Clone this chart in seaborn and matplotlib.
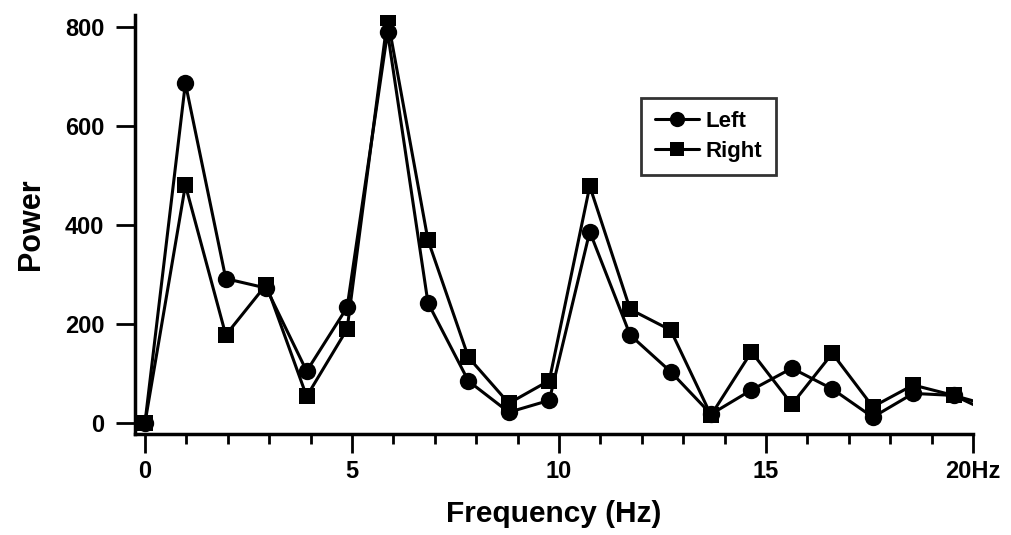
import numpy as np
import pandas as pd
import matplotlib
matplotlib.use("Agg")
import matplotlib.pyplot as plt
import seaborn as sns
from matplotlib.lines import Line2D

# ---- data ----
step = 0.9766
freq = [round(i * step, 3) for i in range(22)]
left = [0, 687, 292, 273, 105, 234, 790, 243, 85, 22, 46, 387, 178, 104, 18,
        67, 111, 69, 12, 60, 56, 33]
right = [0, 481, 178, 280, 54, 190, 818, 370, 133, 40, 86, 479, 230, 188, 16,
         144, 38, 141, 33, 77, 56, 18]
series_names = ["Left", "Right"]
x_ticks = [0, 5, 10, 15, 20]
x_tick_labels = ["0", "5", "10", "15", "20Hz"]
y_ticks = [0, 200, 400, 600, 800]
y_tick_labels = ["0", "200", "400", "600", "800"]

df = pd.DataFrame({
    "freq": freq * 2,
    "power": left + right,
    "side": ["Left"] * len(left) + ["Right"] * len(right),
})

sns.set_style("ticks")
plt.rcParams["font.family"] = ["Liberation Sans", "DejaVu Sans"]
plt.rcParams["font.weight"] = "bold"
plt.rcParams["text.color"] = "black"
plt.rcParams["axes.labelcolor"] = "black"
plt.rcParams["xtick.color"] = "black"
plt.rcParams["ytick.color"] = "black"

fig = plt.figure(figsize=(10.12, 5.35), dpi=100)
ax = fig.add_axes([0.1334, 0.1888, 0.9615 - 0.1334, 0.972 - 0.1888])

sns.lineplot(data=df, x="freq", y="power", style="side",
             markers={"Left": "o", "Right": "s"}, dashes=False,
             color="black", linewidth=2.2, markersize=12.5,
             markeredgewidth=0, ax=ax, legend=False, sort=False)
for ln in ax.lines:
    ln.set_markevery(list(range(len(freq) - 1)))
    ln.set_solid_joinstyle("round")
    if ln.get_marker() == "s":
        ln.set_markersize(11.5)

ax.set_xlim(-0.24, 20)
ax.set_ylim(-22, 825)
ax.set_xticks(x_ticks)
ax.set_xticklabels(x_tick_labels, fontsize=17, fontweight="bold", color="black")
ax.set_xticks(np.arange(0, 21, 1), minor=True)
ax.set_yticks(y_ticks)
ax.set_yticklabels(y_tick_labels, fontsize=17, fontweight="bold", color="black")
ax.tick_params(axis="x", which="major", length=14, width=2, pad=5, colors="black")
ax.tick_params(axis="x", which="minor", length=7, width=2)
ax.tick_params(axis="y", which="major", length=14, width=2, pad=8, colors="black")

for s in ["top", "right"]:
    ax.spines[s].set_visible(False)
for s in ["left", "bottom"]:
    ax.spines[s].set_linewidth(2.5)
    ax.spines[s].set_color("black")

ax.set_xlabel("Frequency (Hz)", fontsize=21.5, fontweight="bold", labelpad=12, color="black")
ax.set_ylabel("Power", fontsize=22, fontweight="bold", labelpad=14, color="black")

handles = [
    Line2D([], [], color="black", lw=2.2, marker="o", markersize=11, markeredgewidth=0),
    Line2D([], [], color="black", lw=2.2, marker="s", markersize=10, markeredgewidth=0),
]
leg = ax.legend(handles, series_names, loc="upper left", bbox_to_anchor=(0.604, 0.802),
                borderaxespad=0, frameon=True, fancybox=False, edgecolor="black",
                handlelength=2.0, handletextpad=0.3, borderpad=0.6, labelspacing=0.4,
                prop={"weight": "bold", "size": 16})
leg.get_frame().set_linewidth(2)
for t in leg.get_texts():
    t.set_color("black")

fig.savefig("out.png", dpi=100)
